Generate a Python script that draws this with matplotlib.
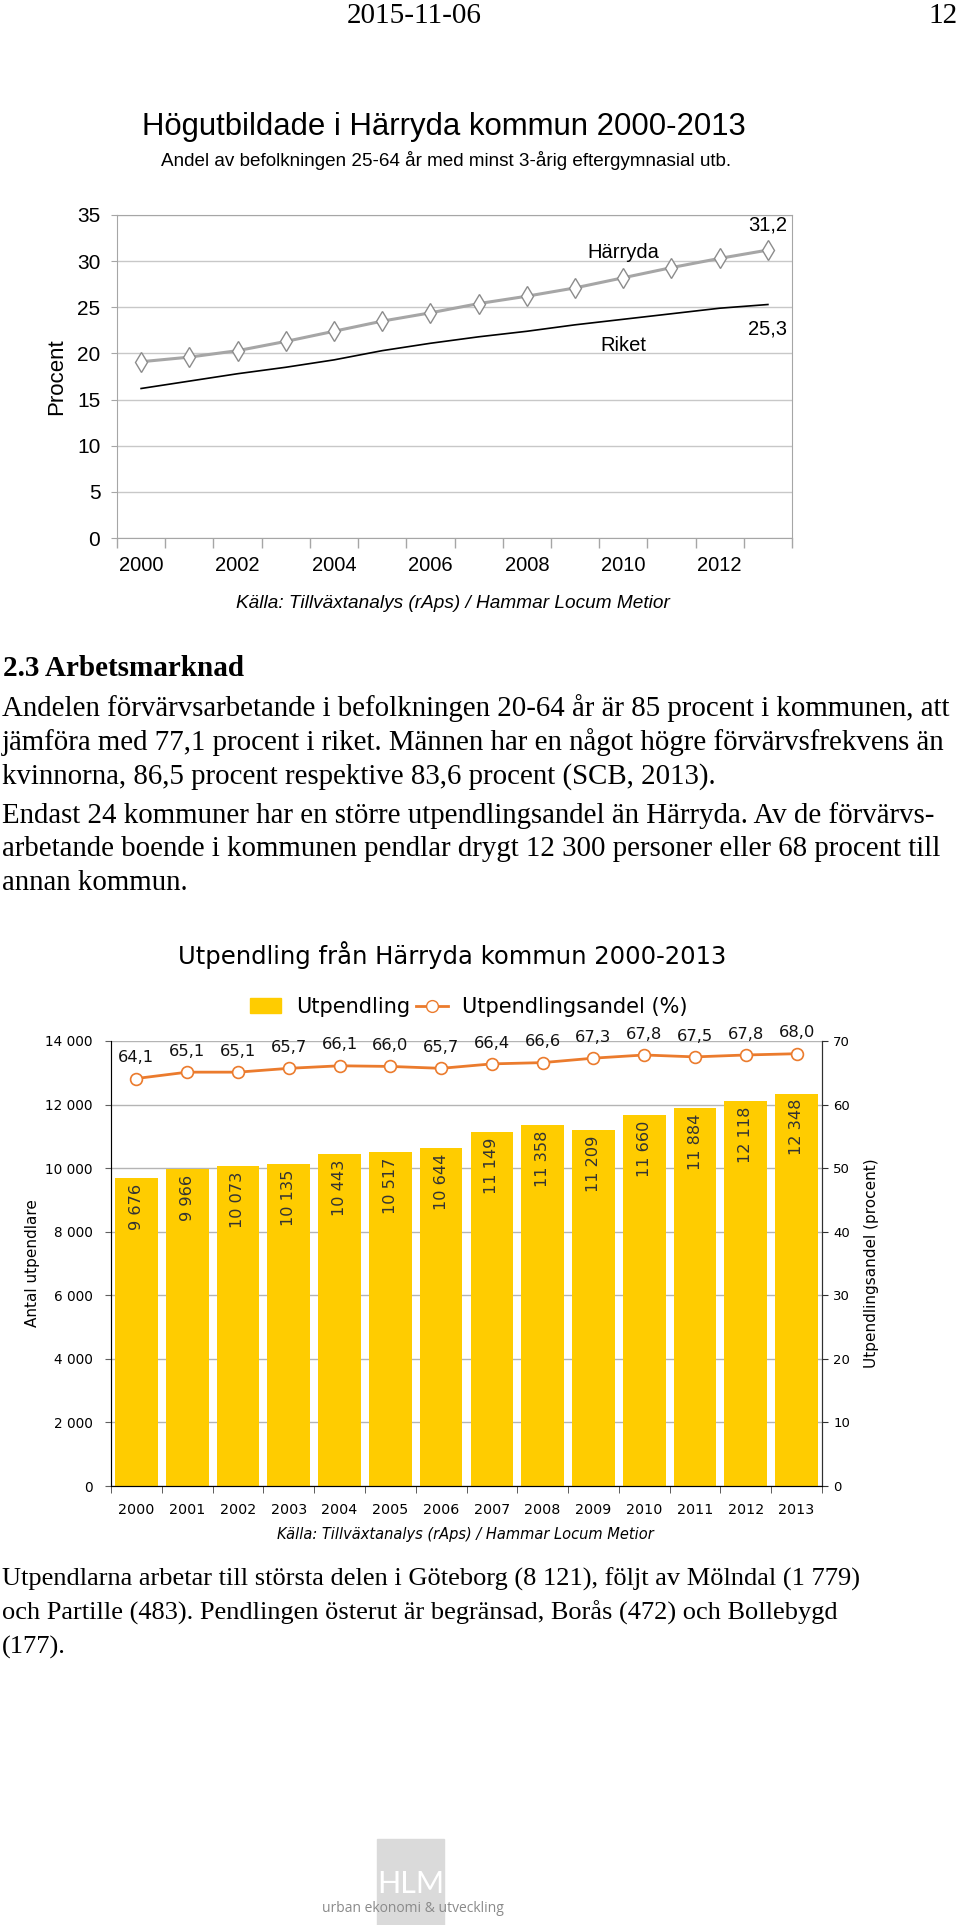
import numpy as np
import matplotlib
matplotlib.use("Agg")
import matplotlib.pyplot as plt
import matplotlib.ticker as mtick
from matplotlib.patches import Rectangle, Patch
from matplotlib.lines import Line2D

W, H = 960, 1925

# --- data ---
years = list(range(2000, 2014))
harryda = [19.1, 19.6, 20.3, 21.3, 22.4, 23.5, 24.4, 25.4, 26.2, 27.1, 28.2, 29.3, 30.3, 31.2]
riket = [16.2, 17.0, 17.8, 18.5, 19.3, 20.3, 21.1, 21.8, 22.4, 23.1, 23.7, 24.3, 24.9, 25.3]

utpendling = [9676, 9966, 10073, 10135, 10443, 10517, 10644, 11149, 11358, 11209, 11660, 11884, 12118, 12348]
andel = [64.1, 65.1, 65.1, 65.7, 66.1, 66.0, 65.7, 66.4, 66.6, 67.3, 67.8, 67.5, 67.8, 68.0]

para1 = [
    "Andelen förvärvsarbetande i befolkningen 20-64 år är 85 procent i kommunen, att",
    "jämföra med 77,1 procent i riket. Männen har en något högre förvärvsfrekvens än",
    "kvinnorna, 86,5 procent respektive 83,6 procent (SCB, 2013).",
]
para2 = [
    "Endast 24 kommuner har en större utpendlingsandel än Härryda. Av de förvärvs-",
    "arbetande boende i kommunen pendlar drygt 12 300 personer eller 68 procent till",
    "annan kommun.",
]
para3 = [
    "Utpendlarna arbetar till största delen i Göteborg (8 121), följt av Mölndal (1 779)",
    "och Partille (483). Pendlingen österut är begränsad, Borås (472) och Bollebygd",
    "(177).",
]

YELLOW = "#FFCC00"
ORANGE = "#EB7B2D"
SERIF = "Liberation Serif"
ARIAL = "Liberation Sans"
VERD = "DejaVu Sans"


def fx(px):
    return px / W


def fy(py):
    return 1 - py / H


def thousands(v):
    return f"{int(v):,}".replace(",", " ")


fig = plt.figure(figsize=(W / 100, H / 100), dpi=100)

# page header
fig.text(fx(414), fy(16), "2015-11-06", family=SERIF, size=21, ha="center", va="center")
fig.text(fx(958), fy(16), "12", family=SERIF, size=21, ha="right", va="center")

# ---------- chart 1 ----------
fig.text(fx(444), fy(127), "Högutbildade i Härryda kommun 2000-2013", family=ARIAL, size=22.4,
         ha="center", va="center")
fig.text(fx(446), fy(160), "Andel av befolkningen 25-64 år med minst 3-årig eftergymnasial utb.",
         family=ARIAL, size=13.6, ha="center", va="center")

ax1 = fig.add_axes([fx(117), fy(538), (792 - 117) / W, (538 - 215) / H])
x = np.arange(len(years))
ax1.plot(x, riket, color="black", lw=1.2, zorder=3)
ax1.plot(x, harryda, color="#a6a6a6", lw=2.2, marker="d", ms=10, mfc="white",
         mec="#8c8c8c", mew=1, zorder=4)
ax1.set_xlim(-0.5, 13.5)
ax1.set_ylim(0, 35)
ax1.set_yticks(range(0, 36, 5))
ax1.set_xticks(x[::2])
ax1.set_xticklabels(years[::2])
ax1.set_xticks(np.arange(-0.5, 14, 1), minor=True)
ax1.tick_params(axis="x", which="major", length=0, pad=13, labelsize=14.5)
ax1.tick_params(axis="x", which="minor", length=7, color="#a6a6a6", width=1)
ax1.tick_params(axis="y", length=4, color="#a6a6a6", pad=8, labelsize=15)
for lab in ax1.get_xticklabels() + ax1.get_yticklabels():
    lab.set_family(ARIAL)
ax1.grid(axis="y", color="#c8c8c8", lw=1)
ax1.set_axisbelow(True)
for sp in ax1.spines.values():
    sp.set_color("#a6a6a6")
fig.text(fx(57), fy(377), "Procent", family=ARIAL, size=16, rotation=90, ha="center", va="center")

ax1.text(10, 30.9, "Härryda", family=ARIAL, size=14.5, ha="center", va="center")
ax1.text(10, 20.9, "Riket", family=ARIAL, size=14.5, ha="center", va="center")
ax1.text(13, 33.9, "31,2", family=ARIAL, size=14.5, ha="center", va="center")
ax1.text(13, 22.6, "25,3", family=ARIAL, size=14.5, ha="center", va="center")

fig.text(fx(453), fy(603), "Källa: Tillväxtanalys (rAps) / Hammar Locum Metior", family=ARIAL,
         style="italic", size=13.7, ha="center", va="center")

# ---------- body text ----------
fig.text(fx(3), fy(668), "2.3 Arbetsmarknad", family=SERIF, weight="bold", size=21,
         ha="left", va="center")
for i, line in enumerate(para1):
    fig.text(fx(2), fy(708 + 34.5 * i), line, family=SERIF, size=20.8, ha="left", va="center")
for i, line in enumerate(para2):
    fig.text(fx(2), fy(816 + 33.5 * i), line, family=SERIF, size=20.8, ha="left", va="center")

# ---------- chart 2 ----------
fig.text(fx(452), fy(955), "Utpendling från Härryda kommun 2000-2013", family=VERD, size=17.5,
         ha="center", va="center")

ax2 = fig.add_axes([fx(111), fy(1486), (822 - 111) / W, (1486 - 1041) / H])
ax2.bar(x, utpendling, width=0.84, color=YELLOW, zorder=2)
ax2.set_xlim(-0.5, 13.5)
ax2.set_ylim(0, 14000)
ax2.set_yticks(range(0, 14001, 2000))
ax2.yaxis.set_major_formatter(mtick.FuncFormatter(lambda v, p: thousands(v)))
ax2.set_xticks(x)
ax2.set_xticklabels(years)
ax2.set_xticks(np.arange(-0.5, 14, 1), minor=True)
ax2.tick_params(axis="x", which="major", length=0, pad=12, labelsize=10.3)
ax2.tick_params(axis="x", which="minor", length=5, color="#404040")
ax2.tick_params(axis="y", length=4, pad=9, labelsize=9.8, color="#606060")
ax2.grid(axis="y", color="#b4b4b4", lw=1, zorder=0)
ax2.set_axisbelow(True)
ax2.spines["top"].set_visible(False)
ax2.spines["left"].set_color("#808080")
ax2.spines["bottom"].set_color("#303030")
ax2.spines["right"].set_color("#303030")
ax2.set_ylabel("Antal utpendlare", family=VERD, size=11, labelpad=4)
for xi, v in zip(x, utpendling):
    ax2.annotate(thousands(v), (xi, v), xytext=(0, -4), textcoords="offset points",
                 rotation=90, ha="center", va="top", family=VERD, size=11.6, color="#333333")

ax3 = ax2.twinx()
ax3.plot(x, andel, color=ORANGE, lw=2, marker="o", ms=8.5, mfc="white", mec=ORANGE,
         mew=1.2, zorder=4)
ax3.set_ylim(0, 70)
ax3.set_yticks(range(0, 71, 10))
ax3.tick_params(axis="y", length=4, pad=4, labelsize=9.5, color="#303030")
ax3.spines["top"].set_visible(False)
ax3.spines["right"].set_color("#303030")
ax3.set_ylabel("Utpendlingsandel (procent)", family=VERD, size=11, labelpad=10)
for xi, v in zip(x, andel):
    ax3.annotate(f"{v:.1f}".replace(".", ","), (xi, v), xytext=(0, 15), textcoords="offset points",
                 ha="center", va="center", family=VERD, size=11.8, color="#111111")

handles = [Patch(color=YELLOW),
           Line2D([], [], color=ORANGE, lw=2, marker="o", ms=8.5, mfc="white", mec=ORANGE)]
fig.legend(handles, ["Utpendling", "Utpendlingsandel (%)"], loc="center",
           bbox_to_anchor=(fx(469), fy(1007)), ncol=2, frameon=False,
           prop={"family": VERD, "size": 15}, handlelength=1.5, handleheight=0.7,
           handletextpad=0.7, columnspacing=0.3)

fig.text(fx(465), fy(1535), "Källa: Tillväxtanalys (rAps) / Hammar Locum Metior", family=VERD,
         style="italic", size=10.5, ha="center", va="center")

for i, line in enumerate(para3):
    fig.text(fx(2), fy(1579 + 34 * i), line, family=SERIF, size=19, ha="left", va="center")

# footer logo
fig.add_artist(Rectangle((fx(377), fy(1925)), (444 - 377) / W, (1925 - 1839) / H,
                         transform=fig.transFigure, color="#dadada", zorder=0))
fig.text(fx(411), fy(1884), "HLM", family="Lato", size=22, color="white",
         ha="center", va="center")
fig.text(fx(413), fy(1908), "urban ekonomi & utveckling", family="Open Sans", size=10,
         color="#8a8a8a", ha="center", va="center")

fig.savefig("out.png", dpi=100, facecolor="white")
